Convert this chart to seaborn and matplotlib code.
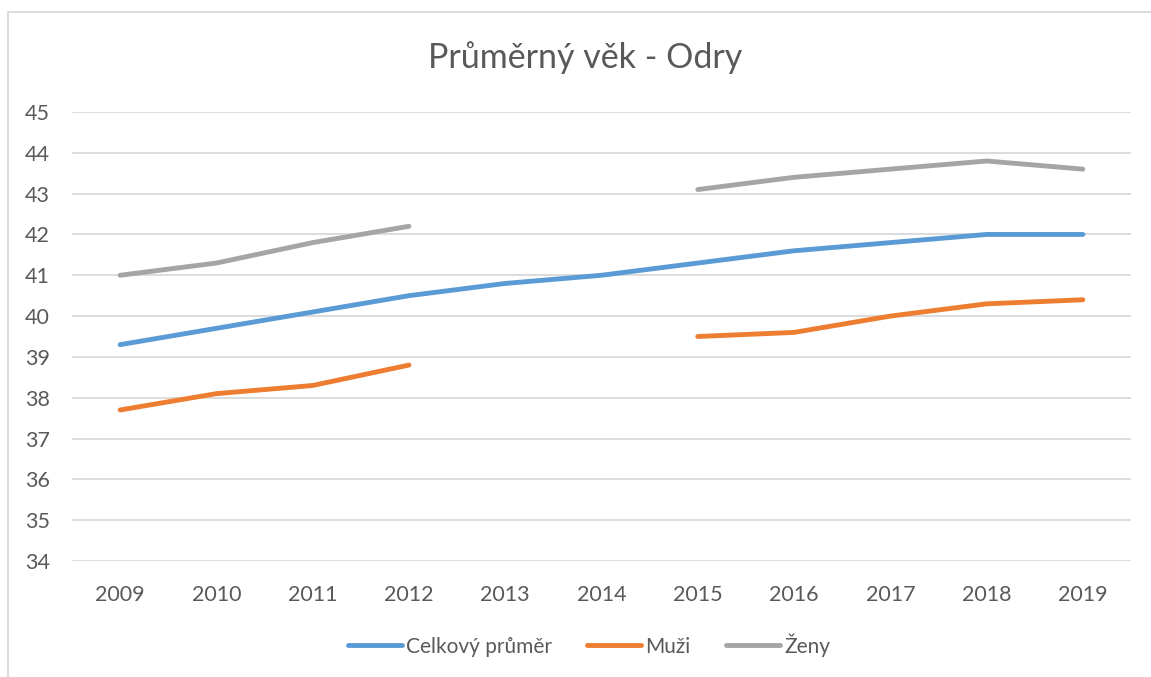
import numpy as np
import pandas as pd
import seaborn as sns
import matplotlib.pyplot as plt
from matplotlib.patches import Rectangle
from matplotlib.lines import Line2D

years = [2009, 2010, 2011, 2012, 2013, 2014, 2015, 2016, 2017, 2018, 2019]
celkovy = [39.3, 39.7, 40.1, 40.5, 40.8, 41.0, 41.3, 41.6, 41.8, 42.0, 42.0]
muzi = [37.7, 38.1, 38.3, 38.8, np.nan, np.nan, 39.5, 39.6, 40.0, 40.3, 40.4]
zeny = [41.0, 41.3, 41.8, 42.2, np.nan, np.nan, 43.1, 43.4, 43.6, 43.8, 43.6]
series_names = ["Celkový průměr", "Muži", "Ženy"]
colors = ["#5B9BD5", "#ED7D31", "#A5A5A5"]

sns.set_theme(style="white")
plt.rcParams['font.family'] = ['Lato', 'DejaVu Sans']

# long table, a gap (NaN) starts a new segment so lines are not joined
rows = []
for name, vals in zip(series_names, [celkovy, muzi, zeny]):
    seg = 0
    for y, v in zip(years, vals):
        if np.isnan(v):
            seg += 1
            continue
        rows.append({"rok": y, "vek": v, "serie": name, "seg": seg})
df = pd.DataFrame(rows)

fig = plt.figure(figsize=(11.51, 6.77), dpi=100)
ax = fig.add_axes([72 / 1151, 1 - 561 / 677, (1131 - 72) / 1151, (561 - 112) / 677])

sns.lineplot(data=df, x="rok", y="vek", hue="serie", units="seg", estimator=None,
             palette=colors, hue_order=series_names, lw=3.5, legend=False, ax=ax,
             solid_capstyle="round")

ax.set_xlim(2008.5, 2019.5)
ax.set_ylim(34, 45)
ax.set_xticks(years)
ax.set_yticks(range(34, 46))
ax.grid(axis="y", color="#D9D9D9", lw=1.3)
ax.set_axisbelow(True)
for s in ax.spines.values():
    s.set_visible(False)
ax.tick_params(axis="both", length=0, labelsize=15.5, labelcolor="#595959")
ax.tick_params(axis="y", pad=16)
ax.tick_params(axis="x", pad=17)
ax.set_xlabel("")
ax.set_ylabel("")

fig.text(585 / 1151, 1 - 58 / 677, "Průměrný věk - Odry", ha="center", va="center",
         fontsize=24.5, color="#595959")

handles = [Line2D([0], [0], color=c, lw=3.5, solid_capstyle="round") for c in colors]
fig.legend(handles, series_names, loc="center", bbox_to_anchor=(589 / 1151, 1 - 645 / 677),
           ncol=3, frameon=False, fontsize=15, handlelength=2.6, handletextpad=0.2,
           columnspacing=1.7, labelcolor="#595959")

# chart area border
fig.add_artist(Rectangle((8 / 1151, -0.1), 1.2, 1.1 - 12 / 677, transform=fig.transFigure,
                         fill=False, edgecolor="#D9D9D9", lw=1.3))

fig.savefig("out.png", dpi=100)
